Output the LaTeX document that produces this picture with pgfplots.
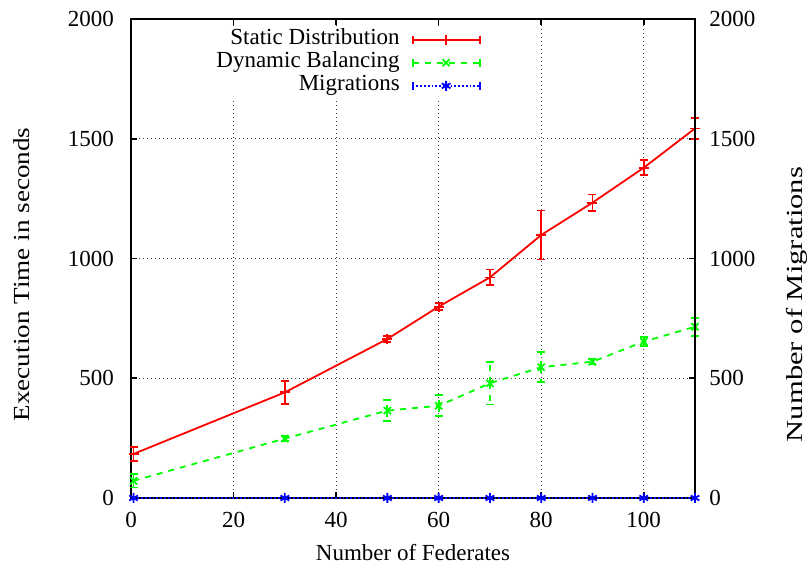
\documentclass[border=0pt]{standalone}
\usepackage{fontspec}
\setmainfont{Liberation Serif}
\usepackage{pgfplots}
\usepackage{pgfplotstable}
\pgfplotsset{compat=1.18}

\definecolor{gpred}{RGB}{255,0,0}
\definecolor{gpgreen}{RGB}{0,255,0}
\definecolor{gpblue}{RGB}{0,0,255}

% measured from the reference (x, value, half error bar)
\pgfplotstableread{
x y e
0.5 184 30
30 441 47
50 664 12
60 799 14
70 921 33
80 1098 102
90 1233 34
100 1379 31
110 1543 43
}\staticdata
\pgfplotstableread{
x y e
0.5 72 28
30 248 10
50 365 45
60 385 44
70 479 89
80 546 63
90 569 12
100 653 20
110 715 38
}\dynamicdata
\pgfplotstableread{
x y
0.5 0
30 0
50 0
60 0
70 0
80 0
90 0
100 0
110 0
}\migdata

\pgfplotsset{
  gpleg/.style={legend image code/.code={
    \draw[##1] (0pt,0pt) -- (33.5pt,0pt);
    \draw[##1,solid] (0pt,-2pt) -- (0pt,2pt) (33.5pt,-2pt) -- (33.5pt,2pt);
    \draw[##1] plot coordinates {(16.75pt,0pt)};
  }},
  gpbase/.style={
    scale only axis, width=282pt, height=239.5pt,
    xmin=0, xmax=110, ymin=0, ymax=2000,
    clip=false,
    /pgf/number format/assume math mode=true,
    /pgf/number format/1000 sep={},
    tick align=inside, major tick length=3pt,
    tick style={black, line width=0.8pt},
    axis line style={line width=0.8pt},
  },
}

\begin{document}
\begin{tikzpicture}[font=\fontsize{11.5}{13.8}\selectfont]
\begin{axis}[gpbase, name=main,
    xtick={0,20,...,100}, ytick={0,500,...,2000},
    xtick pos=both, ytick pos=both, yticklabel pos=left,
    xticklabel style={yshift=-3.5pt},
    yticklabel style={xshift=-5pt},
    grid=major,
    grid style={black!75, line width=0.5pt, dash pattern=on 0.5pt off 1.5pt},
    xlabel={Number of Federates},
    xlabel style={at={(rel axis cs:0.5,0)}, anchor=center, yshift=-27.5pt},
    ylabel={\scalebox{1.18}[1]{Execution Time in seconds}},
    ylabel style={at={(rel axis cs:0,0.5)}, anchor=center, yshift=54.5pt, xshift=-8pt},
  ]
  \addplot[gpred, line width=0.9pt, mark=+, mark size=2.5pt,
    error bars/.cd, y dir=both, y explicit,
    error bar style={line width=0.9pt},
    error mark options={rotate=90, mark size=2pt, line width=0.9pt}]
    table[x=x, y=y, y error=e] {\staticdata};
  \addplot[gpgreen, line width=0.9pt, dashed, mark=x, mark size=2.5pt,
    mark options={solid},
    error bars/.cd, y dir=both, y explicit,
    error bar style={line width=0.9pt},
    error mark options={rotate=90, mark size=2pt, line width=0.9pt}]
    table[x=x, y=y, y error=e] {\dynamicdata};
\end{axis}
\begin{axis}[gpbase, at={(main.south west)}, anchor=south west,
    hide x axis, axis y line*=right,
    ytick={0,500,...,2000}, major tick length=0pt,
    yticklabel style={xshift=3.7pt},
    ylabel={\scalebox{1.33}[1]{Number of Migrations}},
    ylabel style={at={(rel axis cs:1,0.5)}, anchor=center, yshift=-51pt, xshift=-23pt},
    legend plot pos=right,
    legend cell align=right,
    legend style={at={(rel axis cs:0.624,1)}, anchor=north east, yshift=-3.2pt,
      draw=none, fill=white, inner xsep=1pt, inner ysep=1.5pt,
      column sep=6pt, row sep=0.5pt,
      nodes={inner sep=0pt, text height=8pt, text depth=3pt}},
  ]
  \addlegendimage{gpred, line width=0.9pt, mark=+, mark size=2.5pt, gpleg}
  \addlegendentry{Static Distribution}
  \addlegendimage{gpgreen, line width=0.9pt, dashed, mark=x, mark size=2.5pt, mark options={solid}, gpleg}
  \addlegendentry{Dynamic Balancing}
  \addplot[gpblue, line width=0.9pt, densely dotted, mark=asterisk, mark size=2.5pt,
    mark options={solid}, gpleg]
    table[x=x, y=y] {\migdata};
  \addlegendentry{Migrations}
\end{axis}
\pgfresetboundingbox
\path ([xshift=-65.5pt,yshift=-36pt]main.south west) rectangle ([xshift=58pt,yshift=9.5pt]main.north east);
\end{tikzpicture}
\end{document}
